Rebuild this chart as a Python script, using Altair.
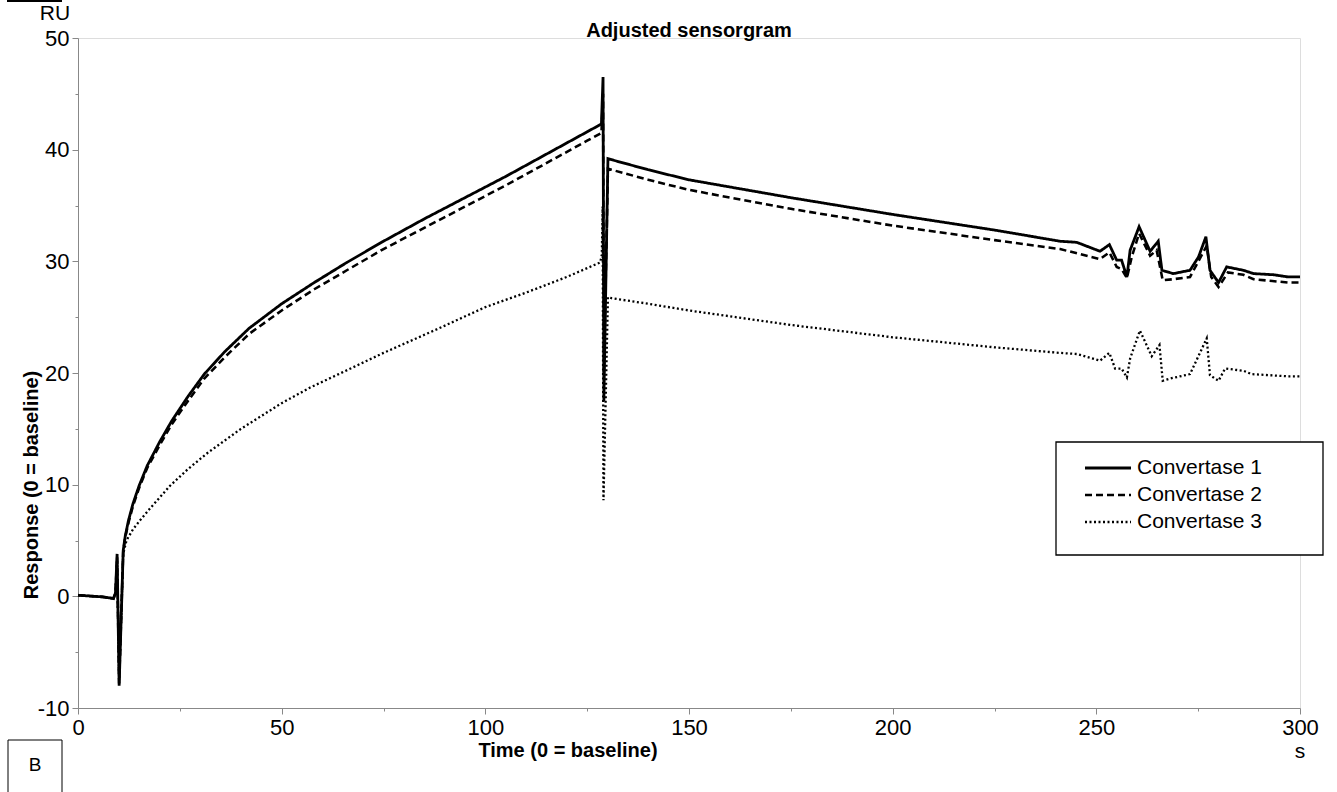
import altair as alt
import pandas as pd

# ---- data ----
series_names = ["Convertase 1", "Convertase 2", "Convertase 3"]

t1 = [0, 2, 4, 6, 8, 8.7, 9.2, 9.6, 10.1, 11.1, 11.6, 12.4, 13.5, 15, 17, 20, 23, 27, 31,
      36, 42, 50, 58, 66, 75, 85, 95, 105, 117, 125, 128.5, 128.9, 129.1, 130.1, 131, 140,
      150, 175, 200, 225, 241.1, 245.2, 250.9, 253.2, 255.0, 256.2, 257.5, 258.3, 260.5,
      263.2, 265.2, 266.1, 268.9, 273.0, 275.1, 276.9, 277.9, 280.0, 282.0, 286.1, 288.6,
      293.5, 297.1, 300]
r1 = [0.1, 0.05, 0.0, -0.05, -0.15, -0.2, 0.3, 3.8, -8.0, 4.1, 5.4, 6.8, 8.3, 9.9, 11.7,
      13.8, 15.7, 17.9, 19.9, 21.9, 24.0, 26.2, 28.1, 29.9, 31.8, 33.8, 35.7, 37.6, 40.0,
      41.6, 42.3, 46.5, 17.5, 39.2, 39.1, 38.2, 37.3, 35.7, 34.2, 32.8, 31.8, 31.7, 30.9,
      31.5, 30.1, 30.1, 28.6, 31.0, 33.1, 30.9, 31.8, 29.2, 28.9, 29.2, 30.4, 32.2, 29.2,
      28.1, 29.5, 29.2, 28.9, 28.8, 28.6, 28.6]

t2 = [0, 2, 4, 6, 8, 8.7, 9.2, 9.6, 10.1, 11.1, 11.6, 12.4, 13.5, 15, 17, 20, 23, 27, 31,
      36, 42, 50, 58, 66, 75, 85, 95, 105, 117, 125, 128.5, 128.9, 129.1, 130.1, 131, 140,
      150, 175, 200, 225, 241.1, 250.9, 253.2, 255.0, 256.2, 257.5, 258.7, 260.5, 263.2,
      264.8, 266.3, 268.9, 273.0, 277.1, 278.2, 280.0, 282.3, 286.1, 288.6, 297.1, 300]
r2 = [0.1, 0.05, 0.0, -0.05, -0.15, -0.2, 0.3, 3.5, -7.8, 4.0, 5.3, 6.6, 8.1, 9.7, 11.5,
      13.5, 15.4, 17.5, 19.5, 21.4, 23.5, 25.6, 27.5, 29.2, 31.1, 33.0, 34.9, 36.8, 39.2,
      40.8, 41.5, 45.0, 20.0, 38.3, 38.2, 37.3, 36.4, 34.7, 33.2, 31.9, 31.1, 30.2, 30.8,
      29.5, 29.3, 28.5, 30.4, 32.5, 30.5, 31.0, 28.3, 28.4, 28.6, 31.4, 28.6, 27.7, 29.0,
      28.8, 28.4, 28.1, 28.1]

t3 = [0, 2, 4, 6, 8, 8.7, 9.2, 9.6, 10.1, 11.1, 11.9, 13.5, 15.2, 18, 22.6, 27, 32, 40, 50,
      57, 64, 75, 88, 100, 110, 120, 128.2, 128.6, 128.8, 129.0, 130.1, 131, 140, 150, 175,
      200, 225, 241.1, 245.2, 250.9, 253.2, 254.6, 256.2, 257.5, 258.3, 260.7, 263.6, 265.5,
      266.3, 268.1, 273.0, 277.1, 277.9, 280.0, 281.6, 286.1, 288.1, 297.1, 300]
r3 = [0.1, 0.05, 0.0, -0.05, -0.15, -0.2, 0.3, 3.3, -7.5, 3.8, 5.0, 6.0, 6.8, 8.0, 9.9,
      11.4, 12.9, 15.0, 17.3, 18.7, 19.9, 21.8, 23.9, 25.9, 27.2, 28.6, 29.9, 30.6, 34.9,
      8.6, 26.8, 26.7, 26.2, 25.6, 24.3, 23.2, 22.3, 21.8, 21.7, 21.1, 21.8, 20.4, 20.4,
      19.6, 21.3, 23.8, 21.5, 22.5, 19.3, 19.5, 19.9, 23.1, 19.8, 19.3, 20.4, 20.2, 19.9,
      19.7, 19.7]

x_ticks = [0, 25, 50, 75, 100, 125, 150, 175, 200, 225, 250, 275, 300]
y_ticks = [-10, -5, 0, 5, 10, 15, 20, 25, 30, 35, 40, 45, 50]

rows = []
for name, ts, rs in zip(series_names, [t1, t2, t3], [r1, r2, r3]):
    for i, (t, r) in enumerate(zip(ts, rs)):
        rows.append({"series": name, "time": t, "resp": r, "order": i})
df = pd.DataFrame(rows)

FONT = "Liberation Sans"
W, H = 1222, 670
dashes = [[1, 0], [7, 4], [2, 2.5]]
widths = [2.8, 2.3, 2.3]
dash_scale = alt.Scale(domain=series_names, range=dashes)
width_scale = alt.Scale(domain=series_names, range=widths)

x_enc = alt.X("time:Q", scale=alt.Scale(domain=[0, 300], nice=False, zero=False),
              axis=alt.Axis(values=x_ticks, title=None,
                            labelExpr="datum.value % 50 === 0 ? '' + datum.value : ''",
                            tickSize={"condition": {"test": "datum.value % 50 === 0", "value": 6}, "value": 3},
                            grid=False, labelFontSize=22, labelPadding=3, labelFlush=False))
y_enc = alt.Y("resp:Q", scale=alt.Scale(domain=[-10, 50], nice=False, zero=False),
              axis=alt.Axis(values=y_ticks, title=None,
                            labelExpr="datum.value % 10 === 0 ? '' + datum.value : ''",
                            tickSize={"condition": {"test": "datum.value % 10 === 0", "value": 6}, "value": 3},
                            grid=False, labelFontSize=22, labelPadding=3))

lines = alt.Chart(df).mark_line(color="black", strokeCap="butt", strokeJoin="miter").encode(
    x=x_enc, y=y_enc,
    detail="series:N",
    order=alt.Order("order:Q"),
    strokeDash=alt.StrokeDash("series:N", scale=dash_scale, legend=None,
                              sort=series_names[::-1]),
    strokeWidth=alt.StrokeWidth("series:N", scale=width_scale, legend=None),
)

def label(text, x, y, size=20, weight="normal", angle=0, align="center", baseline="middle"):
    return alt.Chart(pd.DataFrame({"t": [text]})).mark_text(
        font=FONT, fontSize=size, fontWeight=weight, angle=angle, align=align,
        baseline=baseline, color="black").encode(
        x=alt.value(x), y=alt.value(y), text="t:N")

# legend drawn by hand (box + sample lines + labels)
legend_box = alt.Chart(pd.DataFrame({"a": [0]})).mark_rect(
    fill="white", stroke="black", strokeWidth=1.3).encode(
    x=alt.value(978), x2=alt.value(1245), y=alt.value(404), y2=alt.value(517))
legend_parts = [legend_box]
row_y = [430, 457, 484]
for name, yy, dash, sw in zip(series_names, row_y, dashes, widths):
    legend_parts.append(
        alt.Chart(pd.DataFrame({"s": [name]})).mark_rule(
            color="black", strokeDash=dash, strokeWidth=sw, strokeCap="butt").encode(
            x=alt.value(1007), x2=alt.value(1053), y=alt.value(yy)))
    legend_parts.append(label(name, 1059, yy, size=21, align="left"))

annotations = [
    label("Adjusted sensorgram", 611, -7, size=20, weight="bold"),
    label("RU", -23, -24, size=21),
    label("s", 1222, 714, size=21),
    label("Time (0 = baseline)", 490, 713, size=20, weight="bold"),
    label("Response (0 = baseline)", -46, 447, size=20, weight="bold", angle=270),
    label("B", -43, 727, size=19),
]
b_box = alt.Chart(pd.DataFrame({"a": [0]})).mark_rect(
    fill="white", stroke="black", strokeWidth=1).encode(
    x=alt.value(-70), x2=alt.value(-16), y=alt.value(702), y2=alt.value(760))
top_line = alt.Chart(pd.DataFrame({"a": [0]})).mark_rule(color="black", strokeWidth=2).encode(
    x=alt.value(-71), x2=alt.value(-16), y=alt.value(-37))

chart = alt.layer(lines, *legend_parts, b_box, top_line, *annotations).properties(
    width=W, height=H,
    autosize=alt.AutoSizeParams(type="none"),
    padding={"left": 78, "top": 38, "right": 37, "bottom": 84},
).configure_view(stroke=None).configure_axis(
    domainColor="black", domainWidth=1.5, tickColor="black", tickWidth=1.2,
    labelColor="black", labelFont=FONT,
).configure(background="white")

chart.save("out.html", embed_options={"renderer": "svg", "actions": False})
